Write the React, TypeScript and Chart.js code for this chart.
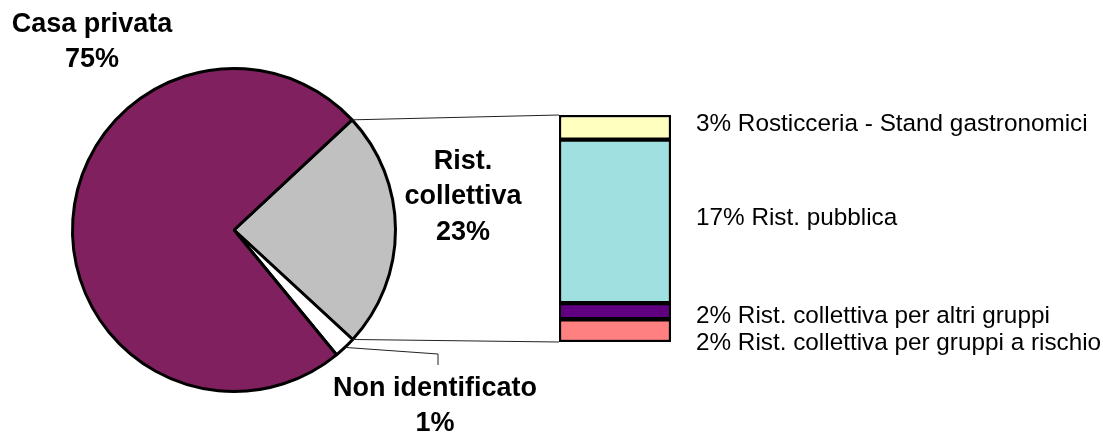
import React, { useEffect, useRef } from "react";
import { Chart, registerables } from "chart.js";

Chart.register(...registerables);

// ---- Pie (main) data ----
const pieCategories = ["Rist. collettiva", "Non identificato", "Casa privata"];
const pieValues = [23.8, 2.2, 74.0];
const pieLabelLines = [["Rist.", "collettiva", "23%"], ["Non identificato", "1%"], ["Casa privata", "75%"]];
const pieColors = ["#C0C0C0", "#FFFFFF", "#80205F"];

// ---- Bar (breakdown of Rist. collettiva) data, bottom to top ----
const barCategories = [
  "Rist. collettiva per gruppi a rischio",
  "Rist. collettiva per altri gruppi",
  "Rist. pubblica",
  "Rosticceria - Stand gastronomici",
];
const barValues = [2.4, 1.7, 17.2, 2.6];
const barPercentLabels = ["2%", "2%", "17%", "3%"];
const barColors = ["#FF8080", "#600080", "#A0E0E0", "#FFFFC0"];

const W = 1103;
const H = 434;
const FONT = "'Liberation Sans', Arial, Helvetica, sans-serif";

export default function App() {
  const pieRef = useRef<HTMLCanvasElement | null>(null);
  const barRef = useRef<HTMLCanvasElement | null>(null);

  useEffect(() => {
    document.body.style.margin = "0";
    if (!pieRef.current || !barRef.current) return;

    // label offsets from pie centre (in pixels)
    const pieLabelOffsets = [
      { dx: 229, dy: -33 },
      { dx: 201, dy: 176 },
      { dx: -142, dy: -188 },
    ];
    const lineH = 35.5;

    const pieLabelsPlugin = {
      id: "pieLabels",
      afterDraw(chart: any) {
        const ctx = chart.ctx;
        const arcs = chart.getDatasetMeta(0).data;
        if (!arcs.length) return;
        const cx = arcs[0].x;
        const cy = arcs[0].y;
        ctx.save();
        ctx.fillStyle = "#000";
        ctx.font = `bold 27px ${FONT}`;
        ctx.textAlign = "center";
        ctx.textBaseline = "middle";
        pieLabelLines.forEach((lines, i) => {
          const o = pieLabelOffsets[i];
          const n = lines.length;
          lines.forEach((t, j) => {
            ctx.fillText(t, cx + o.dx, cy + o.dy + (j - (n - 1) / 2) * lineH);
          });
        });
        ctx.restore();
      },
    };

    const pieChart = new Chart(pieRef.current, {
      type: "pie",
      data: {
        labels: pieCategories,
        datasets: [
          {
            data: pieValues,
            backgroundColor: pieColors,
            borderColor: "#000000",
            borderWidth: 3,
          },
        ],
      },
      options: {
        responsive: false,
        animation: false,
        devicePixelRatio: 1,
        rotation: 47,
        layout: { padding: { left: 71, top: 67, right: W - 397, bottom: H - 393 } },
        plugins: { legend: { display: false }, tooltip: { enabled: false } },
      },
      plugins: [pieLabelsPlugin],
    } as any);

    const barLabelsPlugin = {
      id: "barLabels",
      afterDraw(chart: any) {
        const ctx = chart.ctx;
        const n = barValues.length;
        const els = barValues.map((_, i) => chart.getDatasetMeta(i).data[0]);
        if (!els[0]) return;
        const left = els[0].x - els[0].width / 2;
        const right = els[0].x + els[0].width / 2;
        const top = Math.min(els[n - 1].y, els[n - 1].base);
        const bottom = Math.max(els[0].y, els[0].base);

        // leader lines from pie
        const arcs = pieChart.getDatasetMeta(0).data as any[];
        const g = arcs[0];
        const w = arcs[1];
        ctx.save();
        ctx.strokeStyle = "#222";
        ctx.lineWidth = 1;
        ctx.beginPath();
        ctx.moveTo(g.x + g.outerRadius * Math.cos(g.startAngle), g.y + g.outerRadius * Math.sin(g.startAngle));
        ctx.lineTo(left, top);
        ctx.moveTo(g.x + g.outerRadius * Math.cos(g.endAngle), g.y + g.outerRadius * Math.sin(g.endAngle));
        ctx.lineTo(left, bottom);
        // Non identificato leader
        const mid = (w.startAngle + w.endAngle) / 2;
        const lx = w.x + pieLabelOffsets[1].dx + 3;
        const ly = w.y + pieLabelOffsets[1].dy;
        ctx.moveTo(w.x + w.outerRadius * Math.cos(mid), w.y + w.outerRadius * Math.sin(mid));
        ctx.lineTo(lx, ly - 52);
        ctx.lineTo(lx, ly - 41);
        ctx.stroke();

        // right-hand labels
        ctx.fillStyle = "#000";
        ctx.font = `24.3px ${FONT}`;
        ctx.textAlign = "left";
        ctx.textBaseline = "middle";
        const ys: number[] = new Array(n);
        let prev = -Infinity;
        for (let i = n - 1; i >= 0; i--) {
          const e = els[i];
          const c = (e.y + e.base) / 2;
          const y = Math.max(c, prev + 27);
          ys[i] = y;
          prev = y;
        }
        for (let i = 0; i < n; i++) {
          ctx.fillText(`${barPercentLabels[i]} ${barCategories[i]}`, right + 25, ys[i] + (i < 2 ? 5 : -3));
        }
        ctx.restore();
      },
    };

    const total = barValues.reduce((a, b) => a + b, 0);
    const barChart = new Chart(barRef.current, {
      type: "bar",
      data: {
        labels: [""],
        datasets: barValues.map((v, i) => ({
          label: barCategories[i],
          data: [v],
          backgroundColor: barColors[i],
          borderColor: "#000000",
          borderWidth: 2.5,
          borderSkipped: false,
          barPercentage: 1,
          categoryPercentage: 1,
        })),
      },
      options: {
        responsive: false,
        animation: false,
        devicePixelRatio: 1,
        layout: { padding: { left: 559, right: W - 671, top: 115, bottom: H - 342 } },
        scales: {
          x: { display: false, stacked: true },
          y: { display: false, stacked: true, min: 0, max: total },
        },
        plugins: { legend: { display: false }, tooltip: { enabled: false } },
      },
      plugins: [barLabelsPlugin],
    } as any);

    return () => {
      barChart.destroy();
      pieChart.destroy();
    };
  }, []);

  return (
    <div style={{ position: "relative", width: W, height: H, background: "#fff" }}>
      <canvas ref={pieRef} width={W} height={H} style={{ position: "absolute", left: 0, top: 0 }} />
      <canvas ref={barRef} width={W} height={H} style={{ position: "absolute", left: 0, top: 0 }} />
    </div>
  );
}
